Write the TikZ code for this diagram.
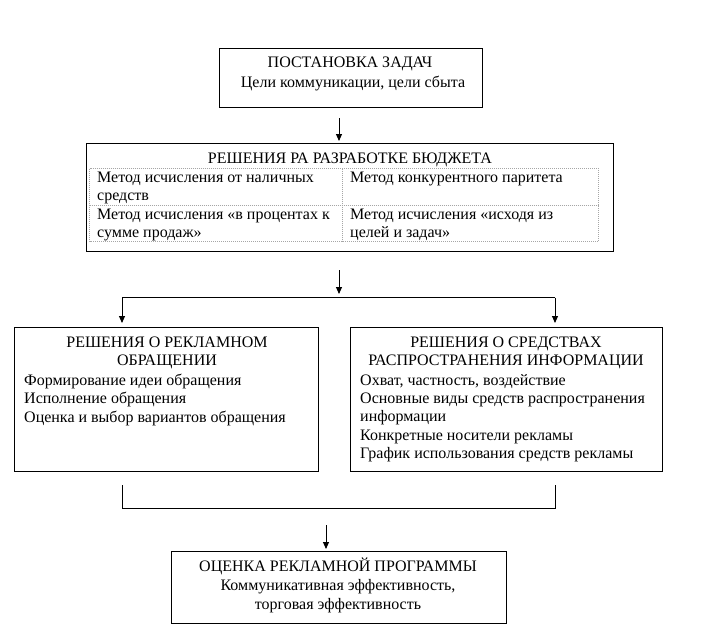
\documentclass[tikz,border=0pt]{standalone}
\usepackage{fontspec}
\setmainfont{Liberation Serif}
\usetikzlibrary{arrows.meta}
\begin{document}
\begin{tikzpicture}[x=1pt,y=-1pt,
  box/.style={draw,line width=0.9pt,inner sep=0pt,rectangle},
  cell/.style={draw=gray!70,line width=0.6pt,dash pattern=on 1pt off 1pt},
  conn/.style={line width=0.9pt},
  arr/.style={line width=0.9pt,-{Triangle[length=7pt,width=6pt]}},
  txt/.style={anchor=base,inner sep=0pt,font=\fontsize{16}{18.5}\selectfont},
  ltxt/.style={anchor=base west,inner sep=0pt,font=\fontsize{16}{18.5}\selectfont}]
\useasboundingbox[fill=white] (0,0) rectangle (707,635);

% boxes
\node[box,minimum width=263pt,minimum height=59pt] (top) at (350.5,77.5) {};
\node[box,minimum width=527pt,minimum height=108.5pt] (budget) at (350,197.25) {};
\node[box,minimum width=304pt,minimum height=144pt] (left) at (166,399) {};
\node[box,minimum width=312pt,minimum height=144pt] (right) at (506,399) {};
\node[box,minimum width=335pt,minimum height=72pt] (bottom) at (338.5,587) {};

% table inside budget box
\draw[cell] (89.5,168.5) rectangle (598.5,241);
\draw[cell] (342,168.5) -- (342,241);
\draw[cell] (89.5,205) -- (598.5,205);

% texts
\node[txt] (t1) at (350,67) {ПОСТАНОВКА ЗАДАЧ};
\node[txt] (t2) at (353,87) {Цели коммуникации, цели сбыта};

\node[txt] (b0) at (350,163) {РЕШЕНИЯ РА РАЗРАБОТКЕ БЮДЖЕТА};
\node[ltxt] (b1) at (97,182) {Метод исчисления от наличных};
\node[ltxt] (b2) at (97,200) {средств};
\node[ltxt] (b3) at (97,219) {Метод исчисления «в процентах к};
\node[ltxt] (b4) at (97,237) {сумме продаж»};
\node[ltxt] (b5) at (350,182) {Метод конкурентного паритета};
\node[ltxt] (b6) at (350,219) {Метод исчисления «исходя из};
\node[ltxt] (b7) at (350,237) {целей и задач»};

\node[txt] (l0) at (167,347) {РЕШЕНИЯ О РЕКЛАМНОМ};
\node[txt] (l1) at (167,365) {ОБРАЩЕНИИ};
\node[ltxt] (l2) at (24,385) {Формирование идеи обращения};
\node[ltxt] (l3) at (24,403) {Исполнение обращения};
\node[ltxt] (l4) at (24,422) {Оценка и выбор вариантов обращения};

\node[txt] (r0) at (506,347) {РЕШЕНИЯ О СРЕДСТВАХ};
\node[txt] (r1) at (506,365) {РАСПРОСТРАНЕНИЯ ИНФОРМАЦИИ};
\node[ltxt] (r2) at (360,385) {Охват, частность, воздействие};
\node[ltxt] (r3) at (360,403) {Основные виды средств распространения};
\node[ltxt] (r4) at (360,421) {информации};
\node[ltxt] (r5) at (360,440) {Конкретные носители рекламы};
\node[ltxt] (r6) at (360,458) {График использования средств рекламы};

\node[txt] (o0) at (338,571) {ОЦЕНКА РЕКЛАМНОЙ ПРОГРАММЫ};
\node[txt] (o1) at (338,590) {Коммуникативная эффективность,};
\node[txt] (o2) at (338,609) {торговая эффективность};

% connectors
\coordinate (a1s) at (339,118);
\coordinate (a1e) at (339,141);
\draw[arr] (a1s) -- (a1e);

\coordinate (a2s) at (339,270);
\coordinate (a2e) at (339,294);
\draw[arr] (a2s) -- (a2e);

\coordinate (splitL) at (122,297.5);
\coordinate (splitR) at (555,297.5);
\coordinate (inL) at (122,323);
\coordinate (inR) at (555,323);
\draw[arr] (splitL) -- (inL);
\draw[arr] (splitR) -- (inR);
\draw[conn] (splitL) -- (splitR);

\coordinate (jL) at (122,485);
\coordinate (jR) at (555,485);
\coordinate (jLb) at (122,508);
\coordinate (jRb) at (555,508);
\draw[conn] (jL) -- (jLb) -- (jRb) -- (jR);

\coordinate (a3s) at (326,525);
\coordinate (a3e) at (326,549);
\draw[arr] (a3s) -- (a3e);
\end{tikzpicture}
\end{document}
